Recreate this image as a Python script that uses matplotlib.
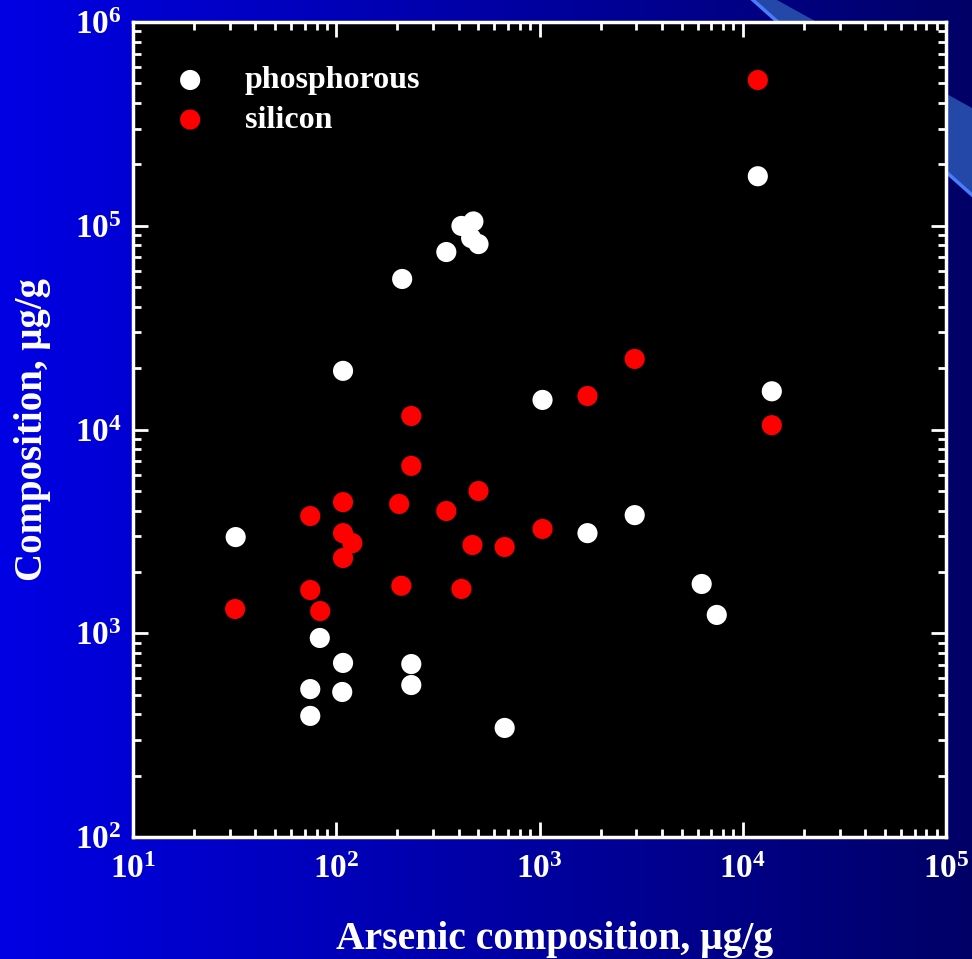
import numpy as np
import matplotlib
matplotlib.use("Agg")
import matplotlib.pyplot as plt
from matplotlib.ticker import LogLocator, LogFormatterMathtext, NullFormatter
from matplotlib.patches import Polygon

plt.rcParams['font.family'] = ['Liberation Serif', 'DejaVu Serif']
plt.rcParams['font.weight'] = 'bold'
plt.rcParams['mathtext.fontset'] = 'custom'
plt.rcParams['mathtext.rm'] = 'Liberation Serif:bold'
plt.rcParams['mathtext.it'] = 'Liberation Serif:bold'
plt.rcParams['mathtext.bf'] = 'Liberation Serif:bold'

# arsenic vs phosphorous, ug/g
phos_as = [32, 108, 211, 348, 413, 473, 461, 501, 11860, 13900, 1035, 1722, 2940,
           6280, 7450, 83, 108, 234, 234, 74.5, 107, 74.5, 674]
phos_val = [2965, 19400, 54800, 74300, 99800, 105000, 87000, 81300, 175000, 15400,
            13970, 3100, 3800, 1745, 1230, 948, 715, 706, 557, 532, 515, 393, 343]

# arsenic vs silicon, ug/g
si_as = [11860, 2940, 1722, 13900, 234, 234, 108, 204, 74.5, 348, 501, 108, 120, 108,
         468, 674, 1035, 209, 413, 74.5, 31.8, 83.4]
si_val = [519000, 22200, 14600, 10500, 11650, 6630, 4400, 4310, 3760, 3980, 4990,
          3100, 2770, 2340, 2710, 2650, 3250, 1710, 1650, 1630, 1315, 1285]

fig = plt.figure(figsize=(9.72, 9.59), dpi=100)

# slide background: blue gradient with a light streak top right
bg = fig.add_axes([0, 0, 1, 1], zorder=-10)
grad = np.linspace(0, 1, 256)
b = (228 - 125 * grad) / 255.0
img = np.dstack([np.zeros_like(grad), np.zeros_like(grad), b])
bg.imshow(img, aspect='auto', extent=[0, 972, 959, 0])
bg.add_patch(Polygon([[753, 0], [777, 0], [972, 108], [972, 195]], closed=True,
                     facecolor='#2448a8', edgecolor='none'))
bg.plot([753, 972], [0, 195], color='#4a7cff', lw=2.5)
bg.set_xlim(0, 972)
bg.set_ylim(959, 0)
bg.axis('off')

ax = fig.add_axes([133 / 972, 1 - 837 / 959, 813 / 972, 815 / 959])
ax.set_facecolor('black')
ax.scatter(phos_as, phos_val, s=210, c='white', edgecolors='none',
           label='phosphorous', zorder=3)
ax.scatter(si_as, si_val, s=210, c='red', edgecolors='none',
           label='silicon', zorder=3)

ax.set_xscale('log')
ax.set_yscale('log')
ax.set_xlim(10, 1e5)
ax.set_ylim(1e2, 1e6)

for axis in (ax.xaxis, ax.yaxis):
    axis.set_major_locator(LogLocator(base=10, numticks=10))
    axis.set_major_formatter(LogFormatterMathtext())
    axis.set_minor_locator(LogLocator(base=10, subs=np.arange(2, 10), numticks=20))
    axis.set_minor_formatter(NullFormatter())

ax.tick_params(which='both', direction='in', top=True, right=True,
               colors='white', width=2)
ax.tick_params(which='major', length=11, labelsize=24)
ax.tick_params(which='minor', length=6)
ax.tick_params(axis='x', which='major', pad=12)
ax.tick_params(axis='y', which='major', pad=8)
for lab in ax.get_xticklabels() + ax.get_yticklabels():
    lab.set_fontweight('bold')
for sp in ax.spines.values():
    sp.set_color('white')
    sp.set_linewidth(2.5)

ax.set_xlabel('Arsenic composition, μg/g', fontsize=28.5, fontweight='bold',
              color='white')
ax.xaxis.set_label_coords(0.518, -0.103)
ax.set_ylabel('Composition, μg/g', fontsize=28, fontweight='bold',
              color='white', labelpad=17)

leg = ax.legend(loc='upper left', bbox_to_anchor=(0.031, 0.946), frameon=False,
                fontsize=23, handlelength=2.0, handletextpad=0.72,
                labelspacing=0.32, borderpad=0, borderaxespad=0)
for t in leg.get_texts():
    t.set_color('white')
    t.set_fontweight('bold')

fig.savefig('out.png', dpi=100)
